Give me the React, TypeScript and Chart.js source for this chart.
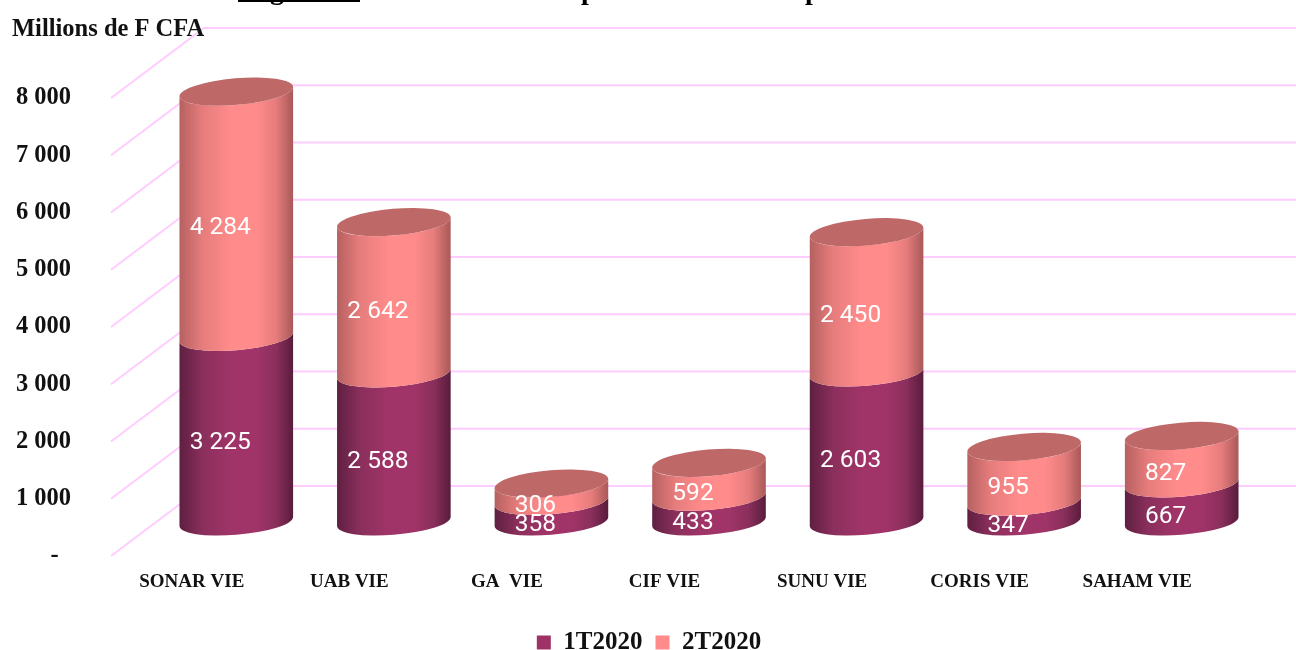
import React, { useEffect, useRef } from "react";
import { Chart, registerables } from "chart.js";

Chart.register(...registerables);

const categories = ["SONAR VIE", "UAB VIE", "GA  VIE", "CIF VIE", "SUNU VIE", "CORIS VIE", "SAHAM VIE"];
const q1Values = [3225, 2588, 358, 433, 2603, 347, 667];
const q2Values = [4284, 2642, 306, 592, 2450, 955, 827];
const seriesNames = ["1T2020", "2T2020"];
const tickValues = [0, 1000, 2000, 3000, 4000, 5000, 6000, 7000, 8000];
const unitLabel = "Millions de F CFA";
const headingWord = "Figure";

const SERIF = "'Liberation Serif', serif";
const GRID = "#FFCCFF";
const fmt = (v: number) => String(v).replace(/\B(?=(\d{3})+$)/g, " ");

const depthX = 46.5;
const depthY = 34.5;
const wallDepthY = 70;
const semiA = 57;
const semiB = 13.3;
const tilt = -0.085;
const t0 = 0.02;
const legendOverflow = 15;
const legendShift = 42;

const sideStops: Record<number, string[]> = {
  0: ["#5E1F40", "#8A2F5C", "#A03468", "#A03468", "#8A2F5C", "#581C3B"],
  1: ["#B56060", "#E67C7C", "#FF8B8B", "#FF8B8B", "#E67C7C", "#A85858"],
};

const cylinderPlugin = {
  id: "cylinders",
  afterLayout(chart: any) {
    if (chart.legend) {
      chart.legend.left += legendShift;
      chart.legend.right += legendShift;
    }
  },
  beforeDatasetDraw() {
    return false;
  },
  beforeDatasetsDraw(chart: any) {
    const { ctx, scales } = chart;
    const y = scales.y;
    const x0 = chart.chartArea.left;
    ctx.save();
    ctx.strokeStyle = GRID;
    ctx.lineWidth = 2;
    tickValues.forEach((v) => {
      const py = y.getPixelForValue(v);
      ctx.beginPath();
      ctx.moveTo(x0, py);
      ctx.lineTo(x0 + depthX * 2, py - wallDepthY);
      ctx.lineTo(chart.width, py - wallDepthY);
      ctx.stroke();
    });
    ctx.restore();
  },
  afterDatasetsDraw(chart: any) {
    const { ctx } = chart;
    const metas = chart.getSortedVisibleDatasetMetas();
    metas.forEach((meta: any, di: number) => {
      meta.data.forEach((el: any) => {
        const cx = el.x + depthX;
        const top = el.y - depthY;
        const base = el.base - depthY;
        const g = ctx.createLinearGradient(cx - semiA, 0, cx + semiA, 0);
        const stops = sideStops[di];
        [0, 0.2, 0.45, 0.68, 0.85, 1].forEach((p, i) => g.addColorStop(p, stops[i]));
        ctx.save();
        ctx.fillStyle = g;
        ctx.beginPath();
        ctx.ellipse(cx, base, semiA, semiB, tilt, t0, t0 + Math.PI, false);
        ctx.ellipse(cx, top, semiA, semiB, tilt, t0 + Math.PI, t0, true);
        ctx.closePath();
        ctx.fill();
        if (di === metas.length - 1) {
          ctx.fillStyle = "#BF6868";
          ctx.beginPath();
          ctx.ellipse(cx, top, semiA, semiB, tilt, 0, Math.PI * 2);
          ctx.fill();
        }
        ctx.restore();
      });
    });
    metas.forEach((meta: any) => {
      const values = chart.data.datasets[meta.index].data;
      meta.data.forEach((el: any, i: number) => {
        ctx.save();
        ctx.fillStyle = "#FFFFFF";
        ctx.font = "400 24.5px Roboto";
        ctx.textAlign = "center";
        ctx.textBaseline = "middle";
        ctx.fillText(fmt(values[i]), el.x + depthX - 16, (el.y + el.base) / 2 - depthY + 14);
        ctx.restore();
      });
    });
    ctx.save();
    ctx.fillStyle = "#111111";
    ctx.font = `bold 24.5px ${SERIF}`;
    ctx.textBaseline = "middle";
    ctx.fillText(unitLabel, 12, 30);
    // the page's heading is cut by the top edge of the picture
    ctx.fillStyle = "#000000";
    ctx.font = `bold 28px ${SERIF}`;
    ctx.textBaseline = "alphabetic";
    ctx.fillText(headingWord, 245, -1);
    ctx.fillText("p", 581, -1);
    ctx.fillText("p", 805, -1);
    ctx.fillRect(238, 0, 122, 2);
    ctx.restore();
  },
};

export default function App() {
  const ref = useRef<HTMLCanvasElement>(null);
  useEffect(() => {
    document.body.style.margin = "0";
    const chart = new Chart(ref.current!, {
      type: "bar",
      data: {
        labels: categories,
        datasets: [
          { label: seriesNames[0], data: q1Values, backgroundColor: "#9E3266" },
          { label: seriesNames[1], data: q2Values, backgroundColor: "#FF8B8B" },
        ],
      },
      plugins: [cylinderPlugin],
      options: {
        responsive: false,
        animation: false,
        layout: { padding: { top: 98, right: 82, left: 0, bottom: -legendOverflow } },
        datasets: { bar: { barPercentage: 1, categoryPercentage: 0.717 } },
        scales: {
          x: {
            stacked: true,
            grid: { display: false, drawTicks: false },
            border: { display: false },
            ticks: {
              autoSkip: false,
              maxRotation: 0,
              padding: 15,
              labelOffset: 2,
              color: "#111111",
              font: { family: SERIF, size: 19, weight: "bold" },
            },
            afterFit: (s: any) => {
              s.height = 94 + legendOverflow - (s.chart.legend ? s.chart.legend.height : 0);
            },
          },
          y: {
            stacked: true,
            min: 0,
            max: 8000,
            grid: { display: false, drawTicks: false },
            border: { display: false },
            afterBuildTicks: (s: any) => {
              s.ticks = tickValues.map((value) => ({ value }));
            },
            ticks: {
              padding: 40,
              color: "#111111",
              font: { family: SERIF, size: 24.5, weight: "bold" },
              callback: (v: any) => (v === 0 ? "-  " : fmt(Number(v))),
            },
            afterFit: (s: any) => {
              s.width = 111;
            },
          },
        },
        plugins: {
          tooltip: { enabled: false },
          legend: {
            position: "bottom",
            labels: {
              boxWidth: 14,
              boxHeight: 14,
              padding: 13,
              color: "#111111",
              font: { family: SERIF, size: 25, weight: "bold" },
            },
          },
        },
      },
    } as any);
    return () => chart.destroy();
  }, []);
  return <canvas ref={ref} width={1296} height={650} style={{ display: "block" }} />;
}
